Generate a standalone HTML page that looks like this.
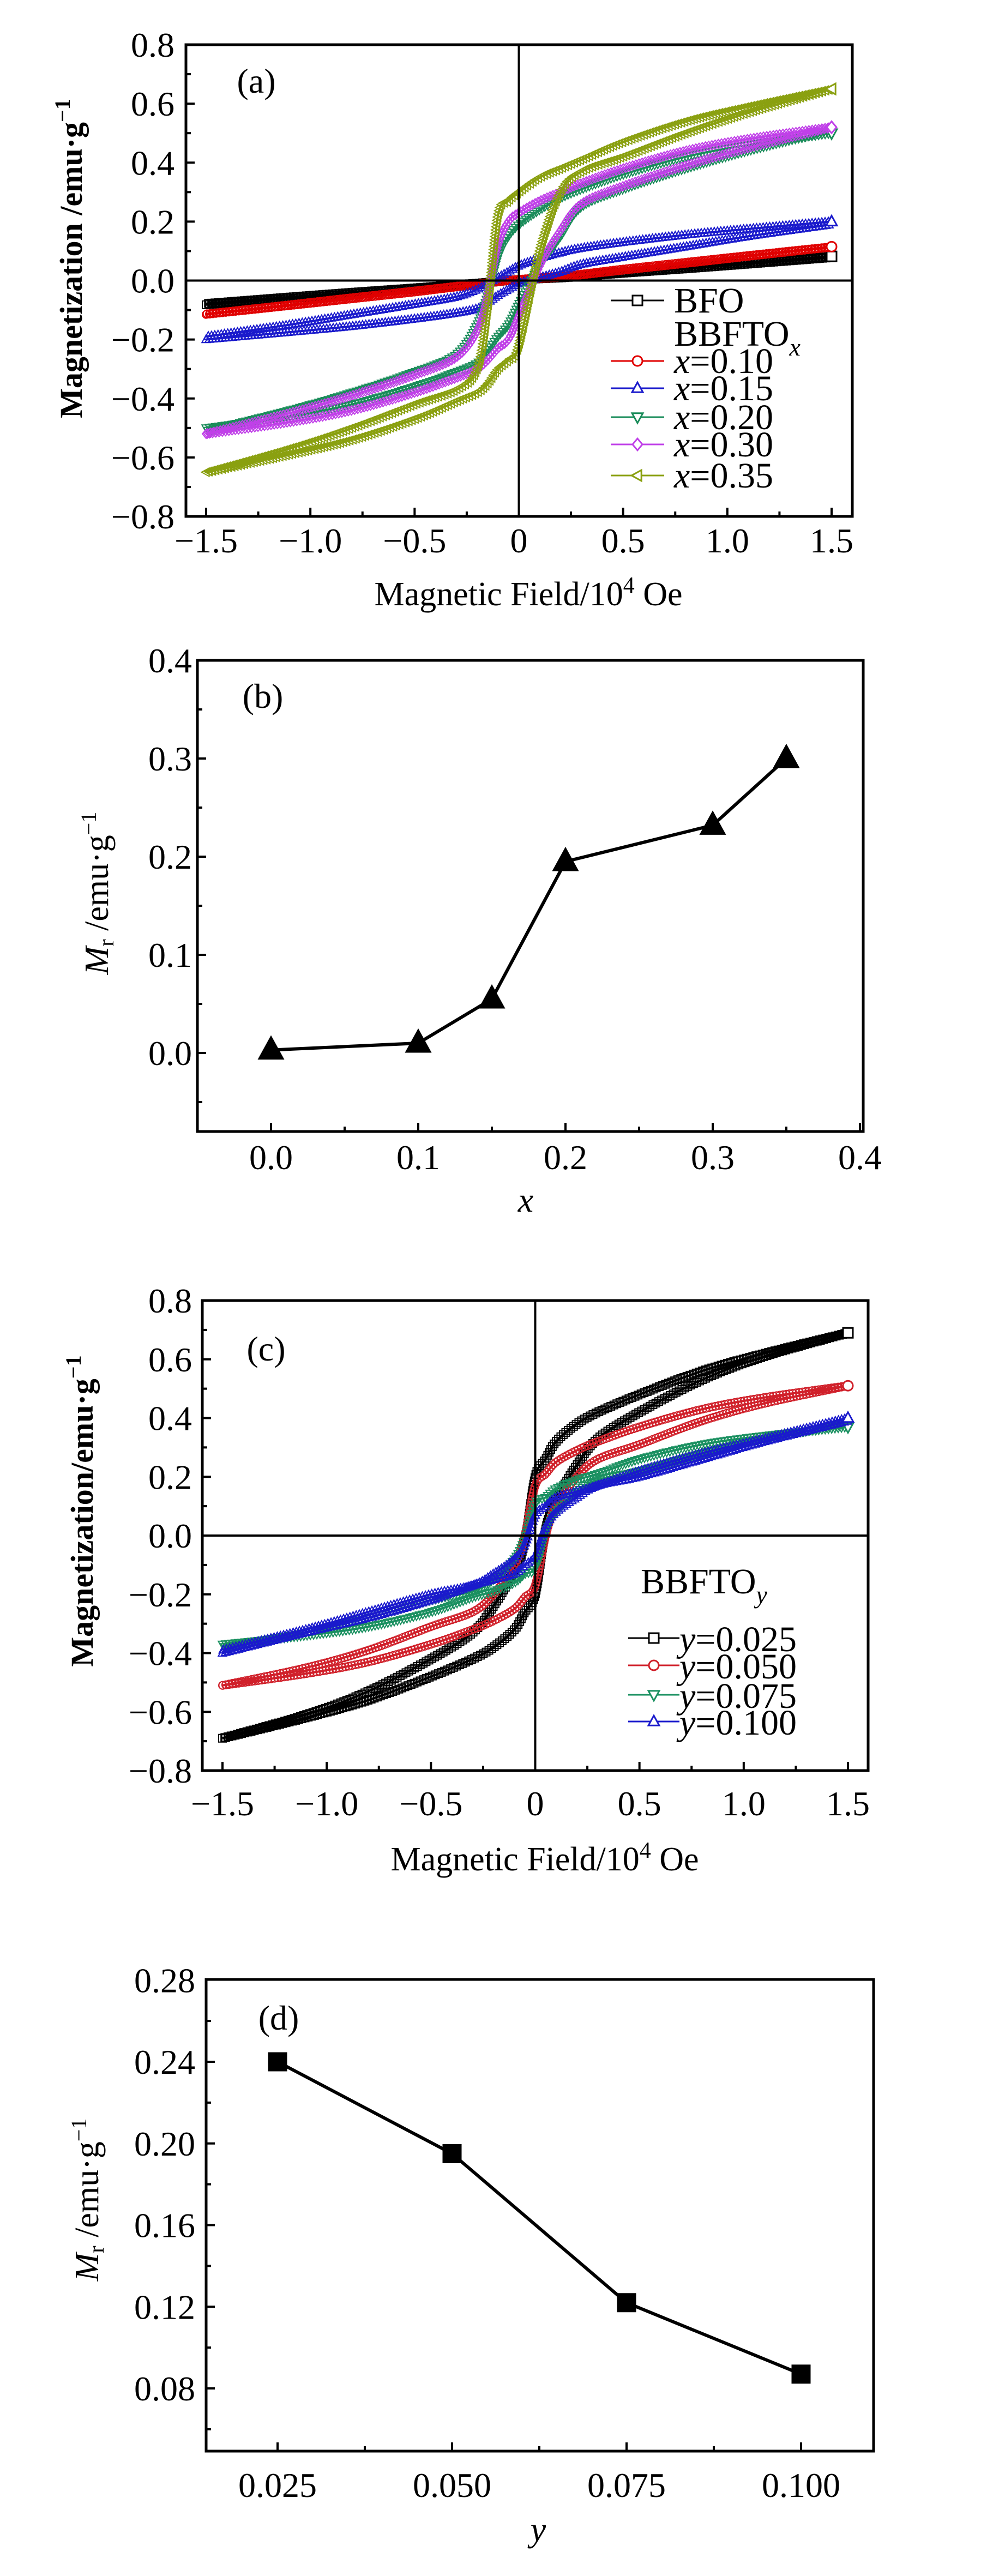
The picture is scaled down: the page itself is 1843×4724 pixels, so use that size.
<!DOCTYPE html>
<html><head><meta charset="utf-8">
<style>
html,body{margin:0;padding:0;background:#fff;}
svg{display:block;}
text{font-family:"Liberation Serif",serif;fill:#000;}
</style></head>
<body>
<svg id="fig" width="1843" height="4724" viewBox="0 0 1843 4724" xmlns="http://www.w3.org/2000/svg"></svg>
<script>
// ---------- data ----------
const fieldA = [-1.5,-1.1,-0.8,-0.5,-0.3,-0.2,-0.15,-0.1,-0.05,0,0.1,0.2,0.3,0.5,0.8,1.1,1.5];
const seriesNamesA = ["BFO","x=0.10","x=0.15","x=0.20","x=0.30","x=0.35"];
const upperBFO  = [-0.078,-0.056,-0.040,-0.025,-0.014,-0.009,-0.006,-0.003,0,0.003,0.008,0.013,0.018,0.029,0.045,0.061,0.082];
const upperX010 = [-0.113,-0.082,-0.058,-0.035,-0.019,-0.011,-0.007,-0.003,0.001,0.004,0.010,0.016,0.022,0.039,0.062,0.085,0.115];
const upperX015 = [-0.19,-0.15,-0.115,-0.08,-0.055,-0.03,-0.01,0.01,0.03,0.05,0.075,0.095,0.11,0.13,0.155,0.175,0.20];
const upperX020 = [-0.51,-0.44,-0.38,-0.31,-0.25,-0.15,-0.05,0.08,0.15,0.19,0.24,0.28,0.31,0.36,0.42,0.46,0.50];
const upperX030 = [-0.52,-0.45,-0.39,-0.32,-0.26,-0.17,-0.05,0.12,0.20,0.23,0.27,0.30,0.33,0.38,0.44,0.48,0.52];
const upperX035 = [-0.65,-0.57,-0.50,-0.42,-0.37,-0.30,-0.10,0.22,0.27,0.30,0.35,0.38,0.41,0.47,0.54,0.59,0.65];

const fieldC = [-1.5,-1.1,-0.8,-0.5,-0.3,-0.2,-0.1,-0.05,0,0.05,0.1,0.2,0.3,0.5,0.8,1.1,1.5];
const seriesNamesC = ["y=0.025","y=0.050","y=0.075","y=0.100"];
const upperY025 = [-0.69,-0.61,-0.53,-0.42,-0.33,-0.24,-0.12,-0.02,0.20,0.26,0.32,0.38,0.42,0.48,0.56,0.62,0.69];
const upperY050 = [-0.51,-0.45,-0.39,-0.31,-0.26,-0.20,-0.10,0.00,0.17,0.21,0.25,0.29,0.32,0.37,0.43,0.47,0.51];
const upperY075 = [-0.38,-0.33,-0.28,-0.22,-0.19,-0.15,-0.08,-0.01,0.11,0.13,0.16,0.19,0.21,0.26,0.31,0.34,0.37];
const upperY100 = [-0.39,-0.32,-0.26,-0.20,-0.17,-0.13,-0.08,-0.03,0.07,0.10,0.13,0.15,0.17,0.22,0.28,0.33,0.40];

const xB = [0.0,0.1,0.15,0.2,0.3,0.35];
const mrB = [0.003,0.010,0.055,0.195,0.232,0.300];
const yD = [0.025,0.050,0.075,0.100];
const mrD = [0.240,0.195,0.122,0.087];

const ticksAX = [-1.5,-1.0,-0.5,0,0.5,1.0,1.5];
const tickLabelsAX = ["−1.5","−1.0","−0.5","0","0.5","1.0","1.5"];
const ticksAY = [-0.8,-0.6,-0.4,-0.2,0,0.2,0.4,0.6,0.8];
const tickLabelsAY = ["−0.8","−0.6","−0.4","−0.2","0.0","0.2","0.4","0.6","0.8"];
const ticksBX = [0,0.1,0.2,0.3,0.4];
const tickLabelsBX = ["0.0","0.1","0.2","0.3","0.4"];
const ticksBY = [0,0.1,0.2,0.3,0.4];
const tickLabelsBY = ["0.0","0.1","0.2","0.3","0.4"];
const ticksDX = [0.025,0.050,0.075,0.100];
const tickLabelsDX = ["0.025","0.050","0.075","0.100"];
const ticksDY = [0.08,0.12,0.16,0.20,0.24,0.28];
const tickLabelsDY = ["0.08","0.12","0.16","0.20","0.24","0.28"];

// ---------- helpers ----------
const svg = document.getElementById('fig');
const NS = 'http://www.w3.org/2000/svg';
function mk(tag, attrs, parent){
  const e = document.createElementNS(NS, tag);
  for (const k in attrs) e.setAttribute(k, attrs[k]);
  (parent||svg).appendChild(e);
  return e;
}
function linScale(v0,p0,v1,p1){ return v => p0 + (v-v0)*(p1-p0)/(v1-v0); }

function smoothPath(pts){
  let d = `M${pts[0][0]},${pts[0][1]}`;
  for (let i=0;i<pts.length-1;i++){
    const p0=pts[Math.max(0,i-1)], p1=pts[i], p2=pts[i+1], p3=pts[Math.min(pts.length-1,i+2)];
    const c1x=p1[0]+(p2[0]-p0[0])/6, c1y=p1[1]+(p2[1]-p0[1])/6;
    const c2x=p2[0]-(p3[0]-p1[0])/6, c2y=p2[1]-(p3[1]-p1[1])/6;
    d += ` C${c1x},${c1y} ${c2x},${c2y} ${p2[0]},${p2[1]}`;
  }
  return d;
}

function marker(type, x, y, s, color, fill, parent, sw){
  let e;
  if (type==='square') e = mk('rect',{x:x-s,y:y-s,width:2*s,height:2*s},parent);
  else if (type==='circle') e = mk('circle',{cx:x,cy:y,r:s},parent);
  else if (type==='up') e = mk('polygon',{points:`${x},${y-s*1.2} ${x-s*1.1},${y+s*0.8} ${x+s*1.1},${y+s*0.8}`},parent);
  else if (type==='down') e = mk('polygon',{points:`${x},${y+s*1.2} ${x-s*1.1},${y-s*0.8} ${x+s*1.1},${y-s*0.8}`},parent);
  else if (type==='diamond') e = mk('polygon',{points:`${x},${y-s*1.2} ${x-s},${y} ${x},${y+s*1.2} ${x+s},${y}`},parent);
  else if (type==='left') e = mk('polygon',{points:`${x-s*1.2},${y} ${x+s*0.8},${y-s*1.1} ${x+s*0.8},${y+s*1.1}`},parent);
  e.setAttribute('fill', fill);
  e.setAttribute('stroke', color);
  e.setAttribute('stroke-width', sw||3);
  return e;
}

function axesBox(p, name){
  const g = mk('g',{});
  
  
  const r = mk('rect',{x:p.bx0,y:p.by0,width:p.bx1-p.bx0,height:p.by1-p.by0,fill:'none',stroke:'#000','stroke-width':5},g);
  
  
  return g;
}

function ticks(p, name, xt, xl, yt, yl, xminor, yminor, xLabelY, yLabelX){
  const g = mk('g',{});
  
  
  xt.forEach((v,i)=>{
    const x = p.sx(v);
    if (x>p.bx0+3 && x<p.bx1-3) mk('line',{x1:x,y1:p.by1,x2:x,y2:p.by1-16,stroke:'#000','stroke-width':4},g);
    const t = mk('text',{x:x,y:xLabelY,'text-anchor':'middle','font-size':64},g);
    t.textContent = xl[i];
    
    
  });
  xminor.forEach(v=>{
    const x=p.sx(v);
    mk('line',{x1:x,y1:p.by1,x2:x,y2:p.by1-9,stroke:'#000','stroke-width':4},g);
  });
  yt.forEach((v,i)=>{
    const y = p.sy(v);
    if (y>p.by0+3 && y<p.by1-3) mk('line',{x1:p.bx0,y1:y,x2:p.bx0+16,y2:y,stroke:'#000','stroke-width':4},g);
    const t = mk('text',{x:yLabelX,y:y+22,'text-anchor':'end','font-size':64},g);
    t.textContent = yl[i];
    
    
  });
  yminor.forEach(v=>{
    const y=p.sy(v);
    mk('line',{x1:p.bx0,y1:y,x2:p.bx0+9,y2:y,stroke:'#000','stroke-width':4},g);
  });
}

function label(x,y,html,size,name,rot,weight){
  const t = mk('text',{x:x,y:y,'text-anchor':'middle','font-size':size});
  if (weight) t.setAttribute('font-weight', weight);
  if (rot) t.setAttribute('transform',`rotate(-90 ${x} ${y})`);
  t.innerHTML = html;
  
  
  return t;
}

function loop(p, field, upper, color, mtype, name){
  const g = mk('g',{});
  
  
  const n = field.length;
  const up = [], lo = [];
  for (let i=n-1;i>=0;i--) up.push([p.sx(field[i]), p.sy(upper[i])]);
  for (let i=0;i<n;i++) lo.push([p.sx(field[i]), p.sy(-upper[n-1-i])]);
  [up,lo].forEach(pts=>{
    const path = mk('path',{d:smoothPath(pts),fill:'none',stroke:color,'stroke-width':4,'stroke-linejoin':'round'},g);
    const L = path.getTotalLength();
    for (let s=0; s<=L; s+=6){
      const pt = path.getPointAtLength(s);
      marker(mtype, pt.x, pt.y, 7, color, 'none', g, 2);
    }
  });
  marker(mtype, up[0][0], up[0][1], 9, color, '#fff', g);
  return g;
}

// ---------- panel (a) ----------
const pa = {bx0:341,by0:82,bx1:1563,by1:947, sx:linScale(-1.5,378,1.5,1525), sy:linScale(0.8,82,-0.8,947)};
axesBox(pa,'panel-a');
const colorsA = ['#000000','#e00000','#1a1acc','#1a8c5a','#c040e8','#8aa010'];
const markersA = ['square','circle','up','down','diamond','left'];
const dataA = [upperBFO,upperX010,upperX015,upperX020,upperX030,upperX035];
dataA.forEach((d,i)=>loop(pa,fieldA,d,colorsA[i],markersA[i],'loop-'+seriesNamesA[i].replace('=','-').replace('.','')));
mk('line',{x1:pa.sx(0),y1:pa.by0,x2:pa.sx(0),y2:pa.by1,stroke:'#000','stroke-width':4});
mk('line',{x1:pa.bx0,y1:pa.sy(0),x2:pa.bx1,y2:pa.sy(0),stroke:'#000','stroke-width':4});
ticks(pa,'panel-a',ticksAX,tickLabelsAX,ticksAY,tickLabelsAY,[-1.25,-0.75,-0.25,0.25,0.75,1.25],[-0.7,-0.5,-0.3,-0.1,0.1,0.3,0.5,0.7],1013,320);
label(470,170,'(a)',64,'panel-a-label');
label(969,1110,'Magnetic Field/10<tspan baseline-shift="super" font-size="42">4</tspan> Oe',62,'panel-a-x-title');
label(150,474,'Magnetization /emu·g<tspan baseline-shift="super" font-size="40">−1</tspan>',58,'panel-a-y-title',true,'bold');
// legend a
const legA = mk('g',{});  
const legRowsA = [551,662,712,765,815,872];
const legTxtA = ['BFO','<tspan font-style="italic">x</tspan>=0.10','<tspan font-style="italic">x</tspan>=0.15','<tspan font-style="italic">x</tspan>=0.20','<tspan font-style="italic">x</tspan>=0.30','<tspan font-style="italic">x</tspan>=0.35'];
legRowsA.forEach((y,i)=>{
  const g = mk('g',{},legA);
  
  
  mk('line',{x1:1120,y1:y,x2:1218,y2:y,stroke:colorsA[i],'stroke-width':3},g);
  marker(markersA[i],1169,y,9,colorsA[i],'#fff',g);
  const t = mk('text',{x:1236,y:y+22,'font-size':66},g);
  t.innerHTML = legTxtA[i];
});
const bb = mk('text',{x:1236,y:634,'font-size':66},legA);
bb.innerHTML = 'BBFTO<tspan font-style="italic" font-size="46" dy="18">x</tspan>';



// ---------- panel (b) ----------
const pb = {bx0:362,by0:1211,bx1:1583,by1:2075, sx:linScale(0,497,0.1,767), sy:linScale(0,1931,0.3,1391)};
axesBox(pb,'panel-b');
ticks(pb,'panel-b',ticksBX,tickLabelsBX,ticksBY,tickLabelsBY,[0.05,0.15,0.25,0.35],[-0.05,0.05,0.15,0.25,0.35],2144,352);
const lineB = mk('polyline',{points:xB.map((v,i)=>`${pb.sx(v)},${pb.sy(mrB[i])}`).join(' '),fill:'none',stroke:'#000','stroke-width':6});


xB.forEach((v,i)=>{
  const m = marker('up',pb.sx(v),pb.sy(mrB[i]),20,'#000','#000');
  
  
});
label(482,1298,'(b)',64,'panel-b-label');
label(964,2222,'<tspan font-style="italic">x</tspan>',64,'panel-b-x-title');
label(198,1638,'<tspan font-style="italic">M</tspan><tspan font-size="40" dy="10">r</tspan><tspan dy="-10"> /emu·g</tspan><tspan baseline-shift="super" font-size="40">−1</tspan>',62,'panel-b-y-title',true);

// ---------- panel (c) ----------
const pc = {bx0:371,by0:2385,bx1:1592,by1:3247, sx:linScale(-1.5,408,1.5,1555), sy:linScale(0.8,2385,-0.8,3247)};
axesBox(pc,'panel-c');
const colorsC = ['#000000','#d0202a','#1a9060','#1a1acc'];
const markersC = ['square','circle','down','up'];
const dataC = [upperY025,upperY050,upperY075,upperY100];
dataC.forEach((d,i)=>loop(pc,fieldC,d,colorsC[i],markersC[i],'loop-'+seriesNamesC[i].replace('=','-').replace('.','')));
mk('line',{x1:pc.sx(0),y1:pc.by0,x2:pc.sx(0),y2:pc.by1,stroke:'#000','stroke-width':4});
mk('line',{x1:pc.bx0,y1:pc.sy(0),x2:pc.bx1,y2:pc.sy(0),stroke:'#000','stroke-width':4});
ticks(pc,'panel-c',ticksAX,tickLabelsAX,ticksAY,tickLabelsAY,[-1.25,-0.75,-0.25,0.25,0.75,1.25],[-0.7,-0.5,-0.3,-0.1,0.1,0.3,0.5,0.7],3329,352);
label(488,2495,'(c)',64,'panel-c-label');
label(999,3430,'Magnetic Field/10<tspan baseline-shift="super" font-size="42">4</tspan> Oe',62,'panel-c-x-title');
label(170,2771,'Magnetization/emu·g<tspan baseline-shift="super" font-size="40">−1</tspan>',58,'panel-c-y-title',true,'bold');
const legC = mk('g',{});  
const bc = mk('text',{x:1175,y:2922,'font-size':66},legC);
bc.innerHTML = 'BBFTO<tspan font-style="italic" font-size="46" dy="18">y</tspan>';


const legRowsC = [3004,3054,3108,3157];
legRowsC.forEach((y,i)=>{
  const g = mk('g',{},legC);
  
  
  mk('line',{x1:1152,y1:y,x2:1246,y2:y,stroke:colorsC[i],'stroke-width':3},g);
  marker(markersC[i],1199,y,9,colorsC[i],'#fff',g);
  const t = mk('text',{x:1246,y:y+24,'font-size':66},g);
  t.innerHTML = '<tspan font-style="italic">y</tspan>='+seriesNamesC[i].slice(2);
});

// ---------- panel (d) ----------
const pd = {bx0:378,by0:3630,bx1:1602,by1:4495, sx:linScale(0.025,509,0.1,1469), sy:linScale(0.08,4380,0.24,3781)};
axesBox(pd,'panel-d');
ticks(pd,'panel-d',ticksDX,tickLabelsDX,ticksDY,tickLabelsDY,[0.0375,0.0625,0.0875],[0.06,0.10,0.14,0.18,0.22,0.26],4579,358);
const lineD = mk('polyline',{points:yD.map((v,i)=>`${pd.sx(v)},${pd.sy(mrD[i])}`).join(' '),fill:'none',stroke:'#000','stroke-width':6});


yD.forEach((v,i)=>{
  const m = marker('square',pd.sx(v),pd.sy(mrD[i]),16,'#000','#000');
  
  
});
label(511,3722,'(d)',64,'panel-d-label');
label(987,4660,'<tspan font-style="italic">y</tspan>',64,'panel-d-x-title');
label(180,4034,'<tspan font-style="italic">M</tspan><tspan font-size="40" dy="10">r</tspan><tspan dy="-10"> /emu·g</tspan><tspan baseline-shift="super" font-size="40">−1</tspan>',62,'panel-d-y-title',true);
</script>
</body></html>
